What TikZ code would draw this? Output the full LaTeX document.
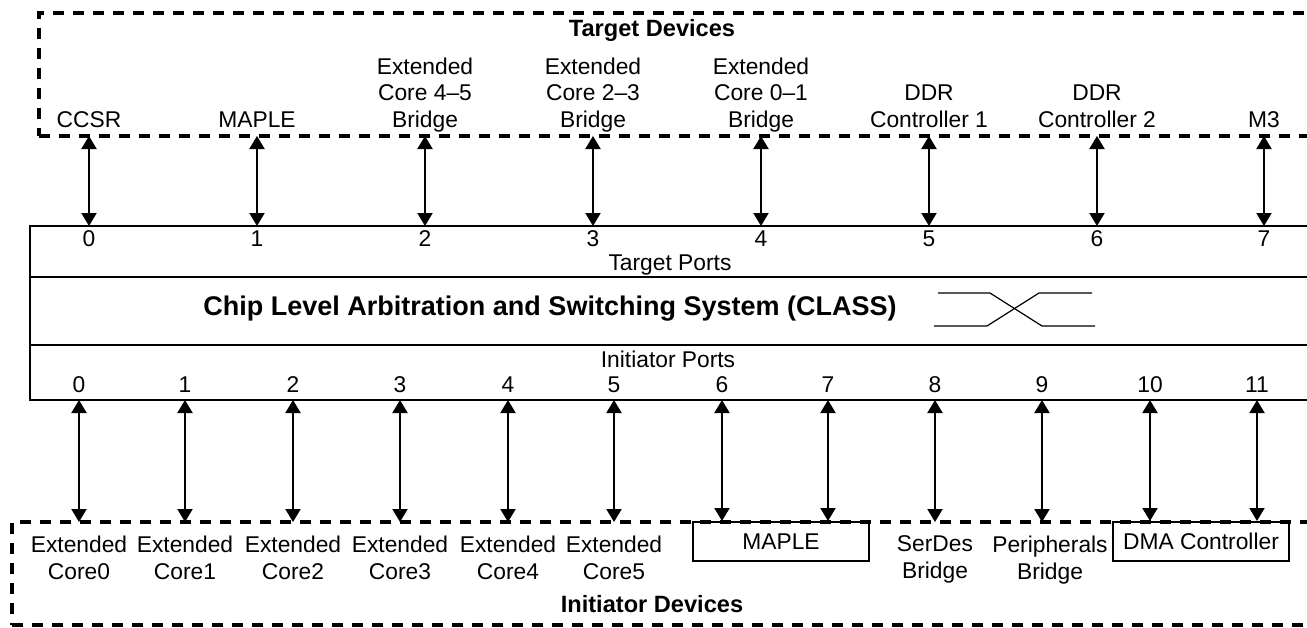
\documentclass[tikz,border=0pt]{standalone}
\usepackage{fontspec}
\setmainfont{Liberation Sans}
\usetikzlibrary{arrows.meta}

\begin{document}
\begin{tikzpicture}
  [x=0.5pt, y=-0.5pt, line width=1pt,
   font=\fontsize{11.4}{13.25}\selectfont,
   dev/.style={align=center, inner sep=0pt},
   num/.style={anchor=base, inner sep=0pt},
   head/.style={anchor=base, inner sep=0pt, font=\fontsize{11.8}{14}\selectfont\bfseries},
   devbox/.style={draw, line width=1.6pt, dash pattern=on 5.5pt off 4.5pt, anchor=north west, inner sep=0pt, outer sep=0pt},
   unitbox/.style={draw, inner sep=0pt, minimum width=88pt, minimum height=19.5pt},
   link/.style={{Triangle[length=6.5pt,width=7.5pt]}-{Triangle[length=6.5pt,width=7.5pt]}},
   xing/.style={line width=0.6pt}]
	\useasboundingbox (0,0) rectangle (1307,627);

	% outlines
	\node [name=tgt, devbox, minimum width=645.5pt, minimum height=61.5pt] at (39,13) {};
	\node [name=ini, devbox, minimum width=659pt, minimum height=51.5pt] at (12,522) {};
	\node [name=class, draw, anchor=north west, inner sep=0pt, outer sep=0pt, minimum width=650pt, minimum height=87pt] at (30,226) {};
	\draw (30,277) -- (1330,277);
	\draw (30,345) -- (1330,345);

	\node [name=tgthead, head] at (652,36) {Target Devices};
	\node [name=inihead, head] at (652,612) {Initiator Devices};
	\node [name=tports, num] at (670,270) {Target Ports};
	\node [name=iports, num] at (668,367) {Initiator Ports};
	\node [name=title, anchor=base, inner sep=0pt, font=\fontsize{13.5}{16}\selectfont\bfseries] at (550,315) {Chip Level Arbitration and Switching System (CLASS)};

	% switch symbol
	\draw [xing] (938,293) -- (990,293) -- (1042,326) -- (1095,326);
	\draw [xing] (934,326) -- (987,326) -- (1039,293) -- (1092,293);

	% target devices
	\node [name=td0, dev, anchor=south] at (89,136) {CCSR\strut};
	\node [name=td1, dev, anchor=south] at (257,136) {MAPLE\strut};
	\node [name=td2, dev, anchor=south] at (425,136) {Extended\\Core 4--5\\Bridge\strut};
	\node [name=td3, dev, anchor=south] at (593,136) {Extended\\Core 2--3\\Bridge\strut};
	\node [name=td4, dev, anchor=south] at (761,136) {Extended\\Core 0--1\\Bridge\strut};
	\node [name=td5, dev, anchor=south] at (929,136) {DDR\\Controller 1\strut};
	\node [name=td6, dev, anchor=south] at (1097,136) {DDR\\Controller 2\strut};
	\node [name=td7, dev, anchor=south] at (1264,136) {M3\strut};

	% target ports
	\node [name=tp0, num] at (89,246) {0};
	\node [name=tp1, num] at (257,246) {1};
	\node [name=tp2, num] at (425,246) {2};
	\node [name=tp3, num] at (593,246) {3};
	\node [name=tp4, num] at (761,246) {4};
	\node [name=tp5, num] at (929,246) {5};
	\node [name=tp6, num] at (1097,246) {6};
	\node [name=tp7, num] at (1264,246) {7};

	% initiator ports
	\node [name=ip0, num] at (79,392) {0};
	\node [name=ip1, num] at (185,392) {1};
	\node [name=ip2, num] at (293,392) {2};
	\node [name=ip3, num] at (400,392) {3};
	\node [name=ip4, num] at (508,392) {4};
	\node [name=ip5, num] at (614,392) {5};
	\node [name=ip6, num] at (722,392) {6};
	\node [name=ip7, num] at (828,392) {7};
	\node [name=ip8, num] at (935,392) {8};
	\node [name=ip9, num] at (1042,392) {9};
	\node [name=ip10, num] at (1150,392) {10};
	\node [name=ip11, num] at (1257,392) {11};

	% initiator devices
	\node [name=id0, dev, anchor=north] at (79,535) {Extended\\Core0};
	\node [name=id1, dev, anchor=north] at (185,535) {Extended\\Core1};
	\node [name=id2, dev, anchor=north] at (293,535) {Extended\\Core2};
	\node [name=id3, dev, anchor=north] at (400,535) {Extended\\Core3};
	\node [name=id4, dev, anchor=north] at (508,535) {Extended\\Core4};
	\node [name=id5, dev, anchor=north] at (614,535) {Extended\\Core5};
	\node [name=maple, unitbox] at (781,541.5) {MAPLE};
	\node [name=id8, dev, anchor=north] at (935,535) {SerDes\\Bridge};
	\node [name=id9, dev, anchor=north] at (1050,535) {Peripherals\\Bridge};
	\node [name=dma, unitbox] at (1201,541.5) {DMA Controller};

	\path [link] (tp0 |- tgt.south) edge (tp0 |- class.north)
				(tp1 |- tgt.south) edge (tp1 |- class.north)
				(tp2 |- tgt.south) edge (tp2 |- class.north)
				(tp3 |- tgt.south) edge (tp3 |- class.north)
				(tp4 |- tgt.south) edge (tp4 |- class.north)
				(tp5 |- tgt.south) edge (tp5 |- class.north)
				(tp6 |- tgt.south) edge (tp6 |- class.north)
				(tp7 |- tgt.south) edge (tp7 |- class.north);

	\path [link] (ip0 |- class.south) edge (ip0 |- ini.north)
				(ip1 |- class.south) edge (ip1 |- ini.north)
				(ip2 |- class.south) edge (ip2 |- ini.north)
				(ip3 |- class.south) edge (ip3 |- ini.north)
				(ip4 |- class.south) edge (ip4 |- ini.north)
				(ip5 |- class.south) edge (ip5 |- ini.north)
				(ip6 |- class.south) edge (ip6 |- maple.north)
				(ip7 |- class.south) edge (ip7 |- maple.north)
				(ip8 |- class.south) edge (ip8 |- ini.north)
				(ip9 |- class.south) edge (ip9 |- ini.north)
				(ip10 |- class.south) edge (ip10 |- dma.north)
				(ip11 |- class.south) edge (ip11 |- dma.north);
\end{tikzpicture}
\end{document}
